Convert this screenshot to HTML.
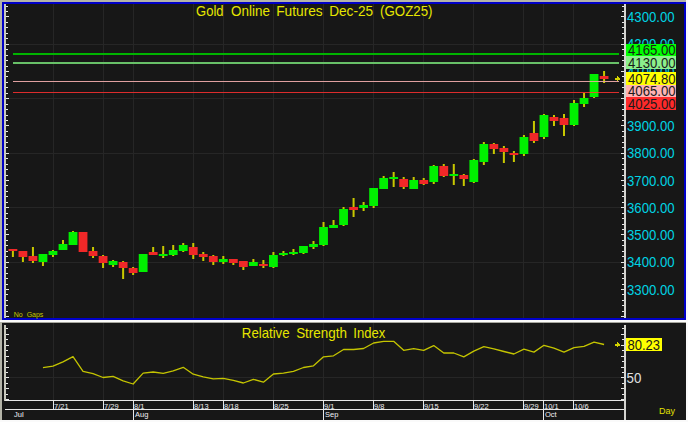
<!DOCTYPE html>
<html><head><meta charset="utf-8"><style>
html,body{margin:0;padding:0;background:#b4b4a8;}
svg{display:block;}
text{font-family:"Liberation Sans",sans-serif;white-space:pre;}
.t{font-size:14px;fill:#e6e600;}
.ax{font-size:14px;fill:#00d4e4;}
.bx{font-size:14px;fill:#1a1a1a;}
.d{font-size:7.5px;fill:#f0f0f4;}
.ng{font-size:7px;fill:#c8c800;}
.day{font-size:9px;fill:#e0e000;}
</style></head><body>
<svg width="688" height="422" viewBox="0 0 688 422" shape-rendering="crispEdges">
<rect x="0" y="0" width="688" height="422" fill="#fafafa"/>
<rect x="0" y="0" width="686" height="2" fill="#b4b4a8"/>
<rect x="0" y="0" width="2" height="320" fill="#b4b4a8"/>
<rect x="2" y="2" width="684" height="318" fill="#0000c8"/>
<rect x="4" y="4" width="680" height="314" fill="#171717"/>
<rect x="0" y="322" width="686" height="1" fill="#a8a8a0"/>
<rect x="0" y="322" width="2" height="98" fill="#b4b4a8"/>
<rect x="2" y="323" width="684" height="97" fill="#171717"/>
<rect x="53" y="4" width="1" height="314" fill="#262626"/>
<rect x="53" y="323" width="1" height="77" fill="#262626"/>
<rect x="103" y="4" width="1" height="314" fill="#262626"/>
<rect x="103" y="323" width="1" height="77" fill="#262626"/>
<rect x="133" y="4" width="1" height="314" fill="#262626"/>
<rect x="133" y="323" width="1" height="77" fill="#262626"/>
<rect x="193" y="4" width="1" height="314" fill="#262626"/>
<rect x="193" y="323" width="1" height="77" fill="#262626"/>
<rect x="223" y="4" width="1" height="314" fill="#262626"/>
<rect x="223" y="323" width="1" height="77" fill="#262626"/>
<rect x="273" y="4" width="1" height="314" fill="#262626"/>
<rect x="273" y="323" width="1" height="77" fill="#262626"/>
<rect x="323" y="4" width="1" height="314" fill="#262626"/>
<rect x="323" y="323" width="1" height="77" fill="#262626"/>
<rect x="373" y="4" width="1" height="314" fill="#262626"/>
<rect x="373" y="323" width="1" height="77" fill="#262626"/>
<rect x="423" y="4" width="1" height="314" fill="#262626"/>
<rect x="423" y="323" width="1" height="77" fill="#262626"/>
<rect x="473" y="4" width="1" height="314" fill="#262626"/>
<rect x="473" y="323" width="1" height="77" fill="#262626"/>
<rect x="523" y="4" width="1" height="314" fill="#262626"/>
<rect x="523" y="323" width="1" height="77" fill="#262626"/>
<rect x="543" y="4" width="1" height="314" fill="#262626"/>
<rect x="543" y="323" width="1" height="77" fill="#262626"/>
<rect x="573" y="4" width="1" height="314" fill="#262626"/>
<rect x="573" y="323" width="1" height="77" fill="#262626"/>
<rect x="6" y="44" width="618" height="1" fill="#262626"/>
<rect x="6" y="98" width="618" height="1" fill="#262626"/>
<rect x="6" y="153" width="618" height="1" fill="#262626"/>
<rect x="6" y="207" width="618" height="1" fill="#262626"/>
<rect x="6" y="262" width="618" height="1" fill="#262626"/>
<rect x="6" y="377" width="618" height="1" fill="#262626"/>
<rect x="4" y="4" width="2" height="314" fill="#c8c8bc"/>
<rect x="624" y="4" width="2" height="314" fill="#d4d4d0"/>
<rect x="6" y="6" width="2" height="1" fill="#e8e8e8"/>
<rect x="622" y="6" width="2" height="1" fill="#e8e8e8"/>
<rect x="6" y="11" width="2" height="1" fill="#e8e8e8"/>
<rect x="622" y="11" width="2" height="1" fill="#e8e8e8"/>
<rect x="6" y="16" width="3" height="1" fill="#e8e8e8"/>
<rect x="621" y="16" width="3" height="1" fill="#e8e8e8"/>
<rect x="6" y="22" width="2" height="1" fill="#e8e8e8"/>
<rect x="622" y="22" width="2" height="1" fill="#e8e8e8"/>
<rect x="6" y="27" width="2" height="1" fill="#e8e8e8"/>
<rect x="622" y="27" width="2" height="1" fill="#e8e8e8"/>
<rect x="6" y="33" width="2" height="1" fill="#e8e8e8"/>
<rect x="622" y="33" width="2" height="1" fill="#e8e8e8"/>
<rect x="6" y="38" width="2" height="1" fill="#e8e8e8"/>
<rect x="622" y="38" width="2" height="1" fill="#e8e8e8"/>
<rect x="6" y="44" width="3" height="1" fill="#e8e8e8"/>
<rect x="621" y="44" width="3" height="1" fill="#e8e8e8"/>
<rect x="6" y="49" width="2" height="1" fill="#e8e8e8"/>
<rect x="622" y="49" width="2" height="1" fill="#e8e8e8"/>
<rect x="6" y="55" width="2" height="1" fill="#e8e8e8"/>
<rect x="622" y="55" width="2" height="1" fill="#e8e8e8"/>
<rect x="6" y="60" width="2" height="1" fill="#e8e8e8"/>
<rect x="622" y="60" width="2" height="1" fill="#e8e8e8"/>
<rect x="6" y="66" width="2" height="1" fill="#e8e8e8"/>
<rect x="622" y="66" width="2" height="1" fill="#e8e8e8"/>
<rect x="6" y="71" width="3" height="1" fill="#e8e8e8"/>
<rect x="621" y="71" width="3" height="1" fill="#e8e8e8"/>
<rect x="6" y="76" width="2" height="1" fill="#e8e8e8"/>
<rect x="622" y="76" width="2" height="1" fill="#e8e8e8"/>
<rect x="6" y="82" width="2" height="1" fill="#e8e8e8"/>
<rect x="622" y="82" width="2" height="1" fill="#e8e8e8"/>
<rect x="6" y="87" width="2" height="1" fill="#e8e8e8"/>
<rect x="622" y="87" width="2" height="1" fill="#e8e8e8"/>
<rect x="6" y="93" width="2" height="1" fill="#e8e8e8"/>
<rect x="622" y="93" width="2" height="1" fill="#e8e8e8"/>
<rect x="6" y="98" width="3" height="1" fill="#e8e8e8"/>
<rect x="621" y="98" width="3" height="1" fill="#e8e8e8"/>
<rect x="6" y="104" width="2" height="1" fill="#e8e8e8"/>
<rect x="622" y="104" width="2" height="1" fill="#e8e8e8"/>
<rect x="6" y="109" width="2" height="1" fill="#e8e8e8"/>
<rect x="622" y="109" width="2" height="1" fill="#e8e8e8"/>
<rect x="6" y="115" width="2" height="1" fill="#e8e8e8"/>
<rect x="622" y="115" width="2" height="1" fill="#e8e8e8"/>
<rect x="6" y="120" width="2" height="1" fill="#e8e8e8"/>
<rect x="622" y="120" width="2" height="1" fill="#e8e8e8"/>
<rect x="6" y="125" width="3" height="1" fill="#e8e8e8"/>
<rect x="621" y="125" width="3" height="1" fill="#e8e8e8"/>
<rect x="6" y="131" width="2" height="1" fill="#e8e8e8"/>
<rect x="622" y="131" width="2" height="1" fill="#e8e8e8"/>
<rect x="6" y="136" width="2" height="1" fill="#e8e8e8"/>
<rect x="622" y="136" width="2" height="1" fill="#e8e8e8"/>
<rect x="6" y="142" width="2" height="1" fill="#e8e8e8"/>
<rect x="622" y="142" width="2" height="1" fill="#e8e8e8"/>
<rect x="6" y="147" width="2" height="1" fill="#e8e8e8"/>
<rect x="622" y="147" width="2" height="1" fill="#e8e8e8"/>
<rect x="6" y="153" width="3" height="1" fill="#e8e8e8"/>
<rect x="621" y="153" width="3" height="1" fill="#e8e8e8"/>
<rect x="6" y="158" width="2" height="1" fill="#e8e8e8"/>
<rect x="622" y="158" width="2" height="1" fill="#e8e8e8"/>
<rect x="6" y="164" width="2" height="1" fill="#e8e8e8"/>
<rect x="622" y="164" width="2" height="1" fill="#e8e8e8"/>
<rect x="6" y="169" width="2" height="1" fill="#e8e8e8"/>
<rect x="622" y="169" width="2" height="1" fill="#e8e8e8"/>
<rect x="6" y="175" width="2" height="1" fill="#e8e8e8"/>
<rect x="622" y="175" width="2" height="1" fill="#e8e8e8"/>
<rect x="6" y="180" width="3" height="1" fill="#e8e8e8"/>
<rect x="621" y="180" width="3" height="1" fill="#e8e8e8"/>
<rect x="6" y="185" width="2" height="1" fill="#e8e8e8"/>
<rect x="622" y="185" width="2" height="1" fill="#e8e8e8"/>
<rect x="6" y="191" width="2" height="1" fill="#e8e8e8"/>
<rect x="622" y="191" width="2" height="1" fill="#e8e8e8"/>
<rect x="6" y="196" width="2" height="1" fill="#e8e8e8"/>
<rect x="622" y="196" width="2" height="1" fill="#e8e8e8"/>
<rect x="6" y="202" width="2" height="1" fill="#e8e8e8"/>
<rect x="622" y="202" width="2" height="1" fill="#e8e8e8"/>
<rect x="6" y="207" width="3" height="1" fill="#e8e8e8"/>
<rect x="621" y="207" width="3" height="1" fill="#e8e8e8"/>
<rect x="6" y="213" width="2" height="1" fill="#e8e8e8"/>
<rect x="622" y="213" width="2" height="1" fill="#e8e8e8"/>
<rect x="6" y="218" width="2" height="1" fill="#e8e8e8"/>
<rect x="622" y="218" width="2" height="1" fill="#e8e8e8"/>
<rect x="6" y="224" width="2" height="1" fill="#e8e8e8"/>
<rect x="622" y="224" width="2" height="1" fill="#e8e8e8"/>
<rect x="6" y="229" width="2" height="1" fill="#e8e8e8"/>
<rect x="622" y="229" width="2" height="1" fill="#e8e8e8"/>
<rect x="6" y="234" width="3" height="1" fill="#e8e8e8"/>
<rect x="621" y="234" width="3" height="1" fill="#e8e8e8"/>
<rect x="6" y="240" width="2" height="1" fill="#e8e8e8"/>
<rect x="622" y="240" width="2" height="1" fill="#e8e8e8"/>
<rect x="6" y="245" width="2" height="1" fill="#e8e8e8"/>
<rect x="622" y="245" width="2" height="1" fill="#e8e8e8"/>
<rect x="6" y="251" width="2" height="1" fill="#e8e8e8"/>
<rect x="622" y="251" width="2" height="1" fill="#e8e8e8"/>
<rect x="6" y="256" width="2" height="1" fill="#e8e8e8"/>
<rect x="622" y="256" width="2" height="1" fill="#e8e8e8"/>
<rect x="6" y="262" width="3" height="1" fill="#e8e8e8"/>
<rect x="621" y="262" width="3" height="1" fill="#e8e8e8"/>
<rect x="6" y="267" width="2" height="1" fill="#e8e8e8"/>
<rect x="622" y="267" width="2" height="1" fill="#e8e8e8"/>
<rect x="6" y="273" width="2" height="1" fill="#e8e8e8"/>
<rect x="622" y="273" width="2" height="1" fill="#e8e8e8"/>
<rect x="6" y="278" width="2" height="1" fill="#e8e8e8"/>
<rect x="622" y="278" width="2" height="1" fill="#e8e8e8"/>
<rect x="6" y="284" width="2" height="1" fill="#e8e8e8"/>
<rect x="622" y="284" width="2" height="1" fill="#e8e8e8"/>
<rect x="6" y="289" width="3" height="1" fill="#e8e8e8"/>
<rect x="621" y="289" width="3" height="1" fill="#e8e8e8"/>
<rect x="6" y="294" width="2" height="1" fill="#e8e8e8"/>
<rect x="622" y="294" width="2" height="1" fill="#e8e8e8"/>
<rect x="6" y="300" width="2" height="1" fill="#e8e8e8"/>
<rect x="622" y="300" width="2" height="1" fill="#e8e8e8"/>
<rect x="6" y="305" width="2" height="1" fill="#e8e8e8"/>
<rect x="622" y="305" width="2" height="1" fill="#e8e8e8"/>
<rect x="6" y="311" width="2" height="1" fill="#e8e8e8"/>
<rect x="622" y="311" width="2" height="1" fill="#e8e8e8"/>
<rect x="6" y="316" width="3" height="1" fill="#e8e8e8"/>
<rect x="621" y="316" width="3" height="1" fill="#e8e8e8"/>
<rect x="4" y="325" width="2" height="76" fill="#c8c8bc"/>
<rect x="624" y="325" width="2" height="95" fill="#d4d4d0"/>
<rect x="6" y="328" width="2" height="1" fill="#e8e8e8"/>
<rect x="622" y="328" width="2" height="1" fill="#e8e8e8"/>
<rect x="6" y="334" width="3" height="1" fill="#e8e8e8"/>
<rect x="621" y="334" width="3" height="1" fill="#e8e8e8"/>
<rect x="6" y="339" width="2" height="1" fill="#e8e8e8"/>
<rect x="622" y="339" width="2" height="1" fill="#e8e8e8"/>
<rect x="6" y="345" width="3" height="1" fill="#e8e8e8"/>
<rect x="621" y="345" width="3" height="1" fill="#e8e8e8"/>
<rect x="6" y="350" width="2" height="1" fill="#e8e8e8"/>
<rect x="622" y="350" width="2" height="1" fill="#e8e8e8"/>
<rect x="6" y="356" width="3" height="1" fill="#e8e8e8"/>
<rect x="621" y="356" width="3" height="1" fill="#e8e8e8"/>
<rect x="6" y="361" width="2" height="1" fill="#e8e8e8"/>
<rect x="622" y="361" width="2" height="1" fill="#e8e8e8"/>
<rect x="6" y="367" width="3" height="1" fill="#e8e8e8"/>
<rect x="621" y="367" width="3" height="1" fill="#e8e8e8"/>
<rect x="6" y="372" width="2" height="1" fill="#e8e8e8"/>
<rect x="622" y="372" width="2" height="1" fill="#e8e8e8"/>
<rect x="6" y="377" width="3" height="1" fill="#e8e8e8"/>
<rect x="621" y="377" width="3" height="1" fill="#e8e8e8"/>
<rect x="6" y="383" width="2" height="1" fill="#e8e8e8"/>
<rect x="622" y="383" width="2" height="1" fill="#e8e8e8"/>
<rect x="6" y="388" width="3" height="1" fill="#e8e8e8"/>
<rect x="621" y="388" width="3" height="1" fill="#e8e8e8"/>
<rect x="6" y="394" width="2" height="1" fill="#e8e8e8"/>
<rect x="622" y="394" width="2" height="1" fill="#e8e8e8"/>
<rect x="6" y="399" width="3" height="1" fill="#e8e8e8"/>
<rect x="621" y="399" width="3" height="1" fill="#e8e8e8"/>
<rect x="13" y="53" width="606" height="2" fill="#00b400"/>
<rect x="13" y="62" width="606" height="2" fill="#68c068"/>
<rect x="11.90" y="249" width="2" height="8" fill="#c8c800" shape-rendering="geometricPrecision"/>
<rect x="21.92" y="251" width="2" height="11" fill="#c8c800" shape-rendering="geometricPrecision"/>
<rect x="31.94" y="247" width="2" height="16" fill="#c8c800" shape-rendering="geometricPrecision"/>
<rect x="41.96" y="254" width="2" height="12" fill="#c8c800" shape-rendering="geometricPrecision"/>
<rect x="51.98" y="250" width="2" height="7" fill="#c8c800" shape-rendering="geometricPrecision"/>
<rect x="62.00" y="240" width="2" height="10" fill="#c8c800" shape-rendering="geometricPrecision"/>
<rect x="72.02" y="231" width="2" height="14" fill="#c8c800" shape-rendering="geometricPrecision"/>
<rect x="82.04" y="232" width="2" height="20" fill="#c8c800" shape-rendering="geometricPrecision"/>
<rect x="92.06" y="247" width="2" height="11" fill="#c8c800" shape-rendering="geometricPrecision"/>
<rect x="102.08" y="255" width="2" height="13" fill="#c8c800" shape-rendering="geometricPrecision"/>
<rect x="112.10" y="260" width="2" height="7" fill="#c8c800" shape-rendering="geometricPrecision"/>
<rect x="122.12" y="261" width="2" height="18" fill="#c8c800" shape-rendering="geometricPrecision"/>
<rect x="132.14" y="267" width="2" height="8" fill="#c8c800" shape-rendering="geometricPrecision"/>
<rect x="142.16" y="254" width="2" height="18" fill="#c8c800" shape-rendering="geometricPrecision"/>
<rect x="152.18" y="247" width="2" height="8" fill="#c8c800" shape-rendering="geometricPrecision"/>
<rect x="162.20" y="246" width="2" height="12" fill="#c8c800" shape-rendering="geometricPrecision"/>
<rect x="172.22" y="245" width="2" height="11" fill="#c8c800" shape-rendering="geometricPrecision"/>
<rect x="182.24" y="243" width="2" height="9" fill="#c8c800" shape-rendering="geometricPrecision"/>
<rect x="192.26" y="243" width="2" height="16" fill="#c8c800" shape-rendering="geometricPrecision"/>
<rect x="202.28" y="252" width="2" height="9" fill="#c8c800" shape-rendering="geometricPrecision"/>
<rect x="212.30" y="255" width="2" height="10" fill="#c8c800" shape-rendering="geometricPrecision"/>
<rect x="222.32" y="256" width="2" height="8" fill="#c8c800" shape-rendering="geometricPrecision"/>
<rect x="232.34" y="259" width="2" height="6" fill="#c8c800" shape-rendering="geometricPrecision"/>
<rect x="242.36" y="261" width="2" height="9" fill="#c8c800" shape-rendering="geometricPrecision"/>
<rect x="252.38" y="259" width="2" height="7" fill="#c8c800" shape-rendering="geometricPrecision"/>
<rect x="262.40" y="260" width="2" height="8" fill="#c8c800" shape-rendering="geometricPrecision"/>
<rect x="272.42" y="252" width="2" height="16" fill="#c8c800" shape-rendering="geometricPrecision"/>
<rect x="282.44" y="251" width="2" height="5" fill="#c8c800" shape-rendering="geometricPrecision"/>
<rect x="292.46" y="249" width="2" height="6" fill="#c8c800" shape-rendering="geometricPrecision"/>
<rect x="302.48" y="246" width="2" height="8" fill="#c8c800" shape-rendering="geometricPrecision"/>
<rect x="312.50" y="241" width="2" height="8" fill="#c8c800" shape-rendering="geometricPrecision"/>
<rect x="322.52" y="222" width="2" height="24" fill="#c8c800" shape-rendering="geometricPrecision"/>
<rect x="332.54" y="220" width="2" height="8" fill="#c8c800" shape-rendering="geometricPrecision"/>
<rect x="342.56" y="207" width="2" height="19" fill="#c8c800" shape-rendering="geometricPrecision"/>
<rect x="352.58" y="198" width="2" height="19" fill="#c8c800" shape-rendering="geometricPrecision"/>
<rect x="362.60" y="202" width="2" height="9" fill="#c8c800" shape-rendering="geometricPrecision"/>
<rect x="372.62" y="188" width="2" height="20" fill="#c8c800" shape-rendering="geometricPrecision"/>
<rect x="382.64" y="176" width="2" height="13" fill="#c8c800" shape-rendering="geometricPrecision"/>
<rect x="392.66" y="172" width="2" height="15" fill="#c8c800" shape-rendering="geometricPrecision"/>
<rect x="402.68" y="177" width="2" height="12" fill="#c8c800" shape-rendering="geometricPrecision"/>
<rect x="412.70" y="177" width="2" height="12" fill="#c8c800" shape-rendering="geometricPrecision"/>
<rect x="422.72" y="178" width="2" height="7" fill="#c8c800" shape-rendering="geometricPrecision"/>
<rect x="432.74" y="165" width="2" height="19" fill="#c8c800" shape-rendering="geometricPrecision"/>
<rect x="442.76" y="164" width="2" height="13" fill="#c8c800" shape-rendering="geometricPrecision"/>
<rect x="452.78" y="164" width="2" height="21" fill="#c8c800" shape-rendering="geometricPrecision"/>
<rect x="462.80" y="174" width="2" height="12" fill="#c8c800" shape-rendering="geometricPrecision"/>
<rect x="472.82" y="159" width="2" height="24" fill="#c8c800" shape-rendering="geometricPrecision"/>
<rect x="482.84" y="142" width="2" height="23" fill="#c8c800" shape-rendering="geometricPrecision"/>
<rect x="492.86" y="143" width="2" height="11" fill="#c8c800" shape-rendering="geometricPrecision"/>
<rect x="502.88" y="146" width="2" height="17" fill="#c8c800" shape-rendering="geometricPrecision"/>
<rect x="512.90" y="151" width="2" height="11" fill="#c8c800" shape-rendering="geometricPrecision"/>
<rect x="522.92" y="135" width="2" height="21" fill="#c8c800" shape-rendering="geometricPrecision"/>
<rect x="532.94" y="121" width="2" height="22" fill="#c8c800" shape-rendering="geometricPrecision"/>
<rect x="542.96" y="114" width="2" height="25" fill="#c8c800" shape-rendering="geometricPrecision"/>
<rect x="552.98" y="115" width="2" height="11" fill="#c8c800" shape-rendering="geometricPrecision"/>
<rect x="563.00" y="114" width="2" height="22" fill="#c8c800" shape-rendering="geometricPrecision"/>
<rect x="573.02" y="100" width="2" height="26" fill="#c8c800" shape-rendering="geometricPrecision"/>
<rect x="583.04" y="92" width="2" height="15" fill="#c8c800" shape-rendering="geometricPrecision"/>
<rect x="593.06" y="74" width="2" height="24" fill="#c8c800" shape-rendering="geometricPrecision"/>
<rect x="603.08" y="71" width="2" height="12" fill="#c8c800" shape-rendering="geometricPrecision"/>
<rect x="13" y="81" width="606" height="1" fill="#e0a0a0"/>
<rect x="8.50" y="249" width="8.8" height="2" fill="#f02828" shape-rendering="geometricPrecision"/>
<rect x="18.52" y="251" width="8.8" height="6" fill="#f02828" shape-rendering="geometricPrecision"/>
<rect x="28.54" y="256" width="8.8" height="5" fill="#f02828" shape-rendering="geometricPrecision"/>
<rect x="38.56" y="254" width="8.8" height="8" fill="#00f000" shape-rendering="geometricPrecision"/>
<rect x="48.58" y="251" width="8.8" height="4" fill="#00f000" shape-rendering="geometricPrecision"/>
<rect x="58.60" y="244" width="8.8" height="6" fill="#00f000" shape-rendering="geometricPrecision"/>
<rect x="68.62" y="232" width="8.8" height="13" fill="#00f000" shape-rendering="geometricPrecision"/>
<rect x="78.64" y="232" width="8.8" height="20" fill="#f02828" shape-rendering="geometricPrecision"/>
<rect x="88.66" y="251" width="8.8" height="5" fill="#f02828" shape-rendering="geometricPrecision"/>
<rect x="98.68" y="256" width="8.8" height="7" fill="#f02828" shape-rendering="geometricPrecision"/>
<rect x="108.70" y="261" width="8.8" height="4" fill="#00f000" shape-rendering="geometricPrecision"/>
<rect x="118.72" y="262" width="8.8" height="6" fill="#f02828" shape-rendering="geometricPrecision"/>
<rect x="128.74" y="268" width="8.8" height="5" fill="#f02828" shape-rendering="geometricPrecision"/>
<rect x="138.76" y="254" width="8.8" height="18" fill="#00f000" shape-rendering="geometricPrecision"/>
<rect x="148.78" y="252" width="8.8" height="3" fill="#f02828" shape-rendering="geometricPrecision"/>
<rect x="158.80" y="254" width="8.8" height="2" fill="#00f000" shape-rendering="geometricPrecision"/>
<rect x="168.82" y="250" width="8.8" height="5" fill="#00f000" shape-rendering="geometricPrecision"/>
<rect x="178.84" y="245" width="8.8" height="6" fill="#00f000" shape-rendering="geometricPrecision"/>
<rect x="188.86" y="247" width="8.8" height="8" fill="#f02828" shape-rendering="geometricPrecision"/>
<rect x="198.88" y="254" width="8.8" height="3" fill="#f02828" shape-rendering="geometricPrecision"/>
<rect x="208.90" y="256" width="8.8" height="6" fill="#f02828" shape-rendering="geometricPrecision"/>
<rect x="218.92" y="259" width="8.8" height="3" fill="#00f000" shape-rendering="geometricPrecision"/>
<rect x="228.94" y="259" width="8.8" height="4" fill="#f02828" shape-rendering="geometricPrecision"/>
<rect x="238.96" y="261" width="8.8" height="6" fill="#f02828" shape-rendering="geometricPrecision"/>
<rect x="248.98" y="262" width="8.8" height="4" fill="#00f000" shape-rendering="geometricPrecision"/>
<rect x="259.00" y="264" width="8.8" height="2" fill="#f02828" shape-rendering="geometricPrecision"/>
<rect x="269.02" y="255" width="8.8" height="12" fill="#00f000" shape-rendering="geometricPrecision"/>
<rect x="279.04" y="253" width="8.8" height="2" fill="#00f000" shape-rendering="geometricPrecision"/>
<rect x="289.06" y="252" width="8.8" height="2" fill="#00f000" shape-rendering="geometricPrecision"/>
<rect x="299.08" y="246" width="8.8" height="7" fill="#00f000" shape-rendering="geometricPrecision"/>
<rect x="309.10" y="244" width="8.8" height="3" fill="#00f000" shape-rendering="geometricPrecision"/>
<rect x="319.12" y="227" width="8.8" height="18" fill="#00f000" shape-rendering="geometricPrecision"/>
<rect x="329.14" y="225" width="8.8" height="3" fill="#00f000" shape-rendering="geometricPrecision"/>
<rect x="339.16" y="209" width="8.8" height="16" fill="#00f000" shape-rendering="geometricPrecision"/>
<rect x="349.18" y="207" width="8.8" height="3" fill="#f02828" shape-rendering="geometricPrecision"/>
<rect x="359.20" y="205" width="8.8" height="3" fill="#00f000" shape-rendering="geometricPrecision"/>
<rect x="369.22" y="188" width="8.8" height="18" fill="#00f000" shape-rendering="geometricPrecision"/>
<rect x="379.24" y="178" width="8.8" height="11" fill="#00f000" shape-rendering="geometricPrecision"/>
<rect x="389.26" y="177" width="8.8" height="2" fill="#00f000" shape-rendering="geometricPrecision"/>
<rect x="399.28" y="179" width="8.8" height="8" fill="#f02828" shape-rendering="geometricPrecision"/>
<rect x="409.30" y="180" width="8.8" height="9" fill="#00f000" shape-rendering="geometricPrecision"/>
<rect x="419.32" y="180" width="8.8" height="4" fill="#f02828" shape-rendering="geometricPrecision"/>
<rect x="429.34" y="166" width="8.8" height="16" fill="#00f000" shape-rendering="geometricPrecision"/>
<rect x="439.36" y="166" width="8.8" height="10" fill="#f02828" shape-rendering="geometricPrecision"/>
<rect x="449.38" y="174" width="8.8" height="2" fill="#00f000" shape-rendering="geometricPrecision"/>
<rect x="459.40" y="175" width="8.8" height="4" fill="#f02828" shape-rendering="geometricPrecision"/>
<rect x="469.42" y="160" width="8.8" height="22" fill="#00f000" shape-rendering="geometricPrecision"/>
<rect x="479.44" y="144" width="8.8" height="18" fill="#00f000" shape-rendering="geometricPrecision"/>
<rect x="489.46" y="144" width="8.8" height="5" fill="#f02828" shape-rendering="geometricPrecision"/>
<rect x="499.48" y="148" width="8.8" height="4" fill="#f02828" shape-rendering="geometricPrecision"/>
<rect x="509.50" y="153" width="8.8" height="2" fill="#f02828" shape-rendering="geometricPrecision"/>
<rect x="519.52" y="137" width="8.8" height="17" fill="#00f000" shape-rendering="geometricPrecision"/>
<rect x="529.54" y="133" width="8.8" height="8" fill="#f02828" shape-rendering="geometricPrecision"/>
<rect x="539.56" y="115" width="8.8" height="22" fill="#00f000" shape-rendering="geometricPrecision"/>
<rect x="549.58" y="117" width="8.8" height="4" fill="#f02828" shape-rendering="geometricPrecision"/>
<rect x="559.60" y="118" width="8.8" height="7" fill="#f02828" shape-rendering="geometricPrecision"/>
<rect x="569.62" y="103" width="8.8" height="22" fill="#00f000" shape-rendering="geometricPrecision"/>
<rect x="579.64" y="98" width="8.8" height="6" fill="#00f000" shape-rendering="geometricPrecision"/>
<rect x="589.66" y="74" width="8.8" height="23" fill="#00f000" shape-rendering="geometricPrecision"/>
<rect x="599.68" y="76" width="8.8" height="3" fill="#f02828" shape-rendering="geometricPrecision"/>
<rect x="13" y="92" width="606" height="1" fill="#dc2c2c"/>
<rect x="13" y="81" width="606" height="1" fill="#e0a0a0"/>
<rect x="589.6" y="81" width="8.8" height="1" fill="#d4b48c" shape-rendering="geometricPrecision"/>
<rect x="589.6" y="92" width="8.8" height="1" fill="#e05a28" shape-rendering="geometricPrecision"/>
<rect x="615" y="78" width="5" height="2" fill="#d2d200"/>
<rect x="617" y="76" width="1" height="5" fill="#d2d200"/>
<rect x="618" y="77" width="1" height="3" fill="#d2d200"/>
<rect x="615" y="344" width="5" height="2" fill="#d2d200"/>
<rect x="617" y="342" width="1" height="5" fill="#d2d200"/>
<rect x="618" y="343" width="1" height="3" fill="#d2d200"/>
<polyline points="42.96,367.6 52.98,366.2 63.00,361.8 73.02,356.7 83.04,371.3 93.06,373.7 103.08,377.5 113.10,376.3 123.12,380.8 133.14,384 143.16,373.1 153.18,372 163.20,373.4 173.22,370.8 183.24,367.3 193.26,374.2 203.28,376.8 213.30,378.9 223.32,378.3 233.34,380.3 243.36,383 253.38,379.3 263.40,382.2 273.42,374 283.44,373.1 293.46,371.3 303.48,367.5 313.50,365.8 323.52,356.8 333.54,355.8 343.56,349.5 353.58,349.5 363.60,348.5 373.62,343 383.64,341.3 393.66,341.3 403.68,350.3 413.70,348.6 423.72,350.3 433.74,345.6 443.76,353 453.78,353 463.80,356.9 473.82,351.1 483.84,346.7 493.86,348.9 503.88,351.5 513.90,354 523.92,349.2 533.94,352.1 543.96,345.3 553.98,348.2 564.00,352.1 574.02,347.7 584.04,346.4 594.06,342.1 604.08,344.5" fill="none" stroke="#c4c400" stroke-width="1.3" stroke-linejoin="round" shape-rendering="geometricPrecision"/>
<rect x="5" y="400" width="619" height="1" fill="#e8e8e8"/>
<rect x="5" y="409" width="619" height="1" fill="#e8e8e8"/>
<rect x="53" y="400" width="1" height="9" fill="#e8e8e8"/>
<text transform="translate(54,409) scale(1.0,1)" class="d" text-anchor="start" >7/21</text>
<rect x="103" y="400" width="1" height="9" fill="#e8e8e8"/>
<text transform="translate(104,409) scale(1.0,1)" class="d" text-anchor="start" >7/29</text>
<rect x="133" y="400" width="1" height="9" fill="#e8e8e8"/>
<text transform="translate(134,409) scale(1.0,1)" class="d" text-anchor="start" >8/1</text>
<rect x="193" y="400" width="1" height="9" fill="#e8e8e8"/>
<text transform="translate(194,409) scale(1.0,1)" class="d" text-anchor="start" >8/13</text>
<rect x="223" y="400" width="1" height="9" fill="#e8e8e8"/>
<text transform="translate(224,409) scale(1.0,1)" class="d" text-anchor="start" >8/18</text>
<rect x="273" y="400" width="1" height="9" fill="#e8e8e8"/>
<text transform="translate(274,409) scale(1.0,1)" class="d" text-anchor="start" >8/25</text>
<rect x="323" y="400" width="1" height="9" fill="#e8e8e8"/>
<text transform="translate(324,409) scale(1.0,1)" class="d" text-anchor="start" >9/1</text>
<rect x="373" y="400" width="1" height="9" fill="#e8e8e8"/>
<text transform="translate(374,409) scale(1.0,1)" class="d" text-anchor="start" >9/8</text>
<rect x="423" y="400" width="1" height="9" fill="#e8e8e8"/>
<text transform="translate(424,409) scale(1.0,1)" class="d" text-anchor="start" >9/15</text>
<rect x="473" y="400" width="1" height="9" fill="#e8e8e8"/>
<text transform="translate(474,409) scale(1.0,1)" class="d" text-anchor="start" >9/22</text>
<rect x="523" y="400" width="1" height="9" fill="#e8e8e8"/>
<text transform="translate(524,409) scale(1.0,1)" class="d" text-anchor="start" >9/29</text>
<rect x="543" y="400" width="1" height="9" fill="#e8e8e8"/>
<text transform="translate(544,409) scale(1.0,1)" class="d" text-anchor="start" >10/1</text>
<rect x="573" y="400" width="1" height="9" fill="#e8e8e8"/>
<text transform="translate(574,409) scale(1.0,1)" class="d" text-anchor="start" >10/6</text>
<text transform="translate(14,417) scale(1.0,1)" class="d" text-anchor="start" >Jul</text>
<rect x="133" y="409" width="1" height="11" fill="#e8e8e8"/>
<text transform="translate(135,417) scale(1.0,1)" class="d" text-anchor="start" >Aug</text>
<rect x="323" y="409" width="1" height="11" fill="#e8e8e8"/>
<text transform="translate(325,417) scale(1.0,1)" class="d" text-anchor="start" >Sep</text>
<rect x="543" y="409" width="1" height="11" fill="#e8e8e8"/>
<text transform="translate(545,417) scale(1.0,1)" class="d" text-anchor="start" >Oct</text>
<text transform="translate(627,22) scale(0.94,1)" class="ax" text-anchor="start" >4300.00</text>
<text transform="translate(627,49) scale(0.94,1)" class="ax" text-anchor="start" >4200.00</text>
<text transform="translate(627,77) scale(0.94,1)" class="ax" text-anchor="start" >4100.00</text>
<text transform="translate(627,131) scale(0.94,1)" class="ax" text-anchor="start" >3900.00</text>
<text transform="translate(627,158) scale(0.94,1)" class="ax" text-anchor="start" >3800.00</text>
<text transform="translate(627,186) scale(0.94,1)" class="ax" text-anchor="start" >3700.00</text>
<text transform="translate(627,213) scale(0.94,1)" class="ax" text-anchor="start" >3600.00</text>
<text transform="translate(627,240) scale(0.94,1)" class="ax" text-anchor="start" >3500.00</text>
<text transform="translate(627,267) scale(0.94,1)" class="ax" text-anchor="start" >3400.00</text>
<text transform="translate(627,295) scale(0.94,1)" class="ax" text-anchor="start" >3300.00</text>
<rect x="626" y="44" width="50" height="12" fill="#00ff00"/>
<text transform="translate(628,55) scale(0.94,1)" class="bx" text-anchor="start" >4165.00</text>
<rect x="626" y="56" width="50" height="13" fill="#8cf08c"/>
<text transform="translate(628,68) scale(0.94,1)" class="bx" text-anchor="start" >4130.00</text>
<rect x="626" y="72" width="50" height="13" fill="#ffff00"/>
<text transform="translate(628,84) scale(0.94,1)" class="bx" text-anchor="start" >4074.80</text>
<rect x="626" y="85" width="50" height="12" fill="#ffb4b4"/>
<text transform="translate(628,96) scale(0.94,1)" class="bx" text-anchor="start" >4065.00</text>
<rect x="626" y="97" width="50" height="13" fill="#ff2a2a"/>
<text transform="translate(628,109) scale(0.94,1)" class="bx" text-anchor="start" >4025.00</text>
<rect x="626" y="338" width="36" height="13" fill="#ffff00"/>
<text transform="translate(627.5,350) scale(0.93,1)" class="bx" text-anchor="start" >80.23</text>
<text transform="translate(626.5,383) scale(0.95,1)" class="ax" text-anchor="start" style="fill:#e0e0e0">50</text>
<text transform="translate(196.07,16) scale(0.93,1)" class="t" text-anchor="start" >Gold</text>
<text transform="translate(231.04,16) scale(0.96,1)" class="t" text-anchor="start" >Online</text>
<text transform="translate(276.22,16) scale(0.98,1)" class="t" text-anchor="start" >Futures</text>
<text transform="translate(329.23,16) scale(0.973,1)" class="t" text-anchor="start" >Dec-25</text>
<text transform="translate(380.05,16) scale(0.95,1)" class="t" text-anchor="start" >(GOZ25)</text>
<text transform="translate(241.86,338) scale(0.943,1)" class="t" text-anchor="start" >Relative</text>
<text transform="translate(296.14,338) scale(0.96,1)" class="t" text-anchor="start" >Strength</text>
<text transform="translate(353.27,338) scale(0.933,1)" class="t" text-anchor="start" >Index</text>
<text transform="translate(13.8,317) scale(1.0,1)" class="ng" text-anchor="start" >No  Gaps</text>
<text transform="translate(659,414) scale(1.0,1)" class="day" text-anchor="start" >Day</text>
</svg>
</body></html>
